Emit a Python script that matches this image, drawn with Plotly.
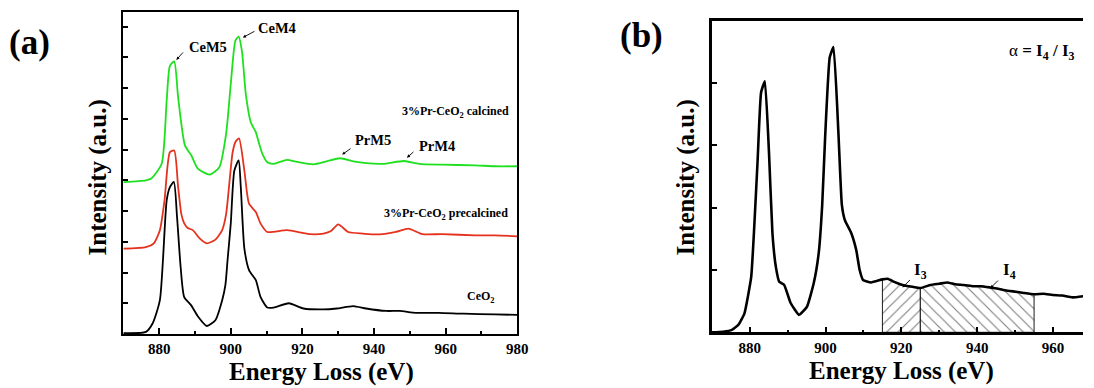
import plotly.graph_objects as go

# ---------------- Panel (a) data ----------------
E_green = [870.0, 876.3, 877.8, 880.7, 882.1, 883.0, 884.2, 885.3, 887.2, 889.0, 890.8, 894.1, 896.8,
           898.7, 900.0, 901.3, 902.2, 903.1, 904.2, 905.6, 907.0, 907.4, 908.8, 910.2, 912.0, 915.7,
           918.5, 923.1, 926.8, 930.5, 934.2, 937.8, 942.5, 948.4, 952.6, 959.0, 968.3, 973.8, 980.0]
I_green = [4.94, 5.00, 5.06, 5.54, 7.60, 8.73, 8.87, 7.70, 6.14, 5.81, 5.38, 5.19, 5.43,
           6.52, 8.14, 9.55, 9.68, 9.22, 7.81, 6.89, 6.57, 6.41, 5.87, 5.59, 5.54, 5.67,
           5.60, 5.52, 5.62, 5.72, 5.62, 5.56, 5.54, 5.63, 5.54, 5.51, 5.49, 5.46, 5.46]

E_red = [870.0, 876.3, 878.5, 880.2, 881.5, 883.0, 884.2, 885.3, 886.2, 887.0, 888.0, 889.4, 891.3,
         893.3, 895.7, 897.6, 898.7, 899.6, 900.5, 901.3, 902.3, 903.8, 905.1, 907.0, 908.3, 910.2,
         915.7, 922.2, 925.9, 928.0, 930.0, 932.8, 936.9, 941.5, 946.1, 949.6, 953.5, 959.0, 968.3,
         973.8, 980.0]
I_red = [2.78, 2.83, 2.95, 3.38, 4.35, 5.92, 5.97, 4.78, 3.90, 3.60, 3.45, 3.38, 3.11,
         2.95, 3.07, 3.38, 3.90, 4.90, 5.90, 6.25, 6.37, 5.32, 4.24, 3.97, 3.60, 3.32,
         3.38, 3.25, 3.27, 3.35, 3.57, 3.32, 3.27, 3.24, 3.32, 3.43, 3.25, 3.25, 3.21,
         3.21, 3.18]

E_black = [870.0, 876.3, 878.2, 880.2, 882.1, 883.0, 884.1, 885.0, 886.0, 887.0, 888.9, 890.9, 893.3,
           895.7, 897.6, 898.5, 899.1, 900.0, 901.0, 902.2, 902.8, 903.8, 905.1, 907.0, 908.3, 910.2,
           912.0, 916.2, 920.3, 925.9, 929.6, 934.2, 937.8, 943.4, 947.1, 951.7, 958.1, 965.0, 973.8,
           980.0]
I_black = [0.03, 0.07, 0.35, 1.10, 4.35, 4.78, 4.95, 3.80, 2.18, 1.20, 0.94, 0.56, 0.26,
           0.45, 1.10, 1.60, 2.40, 3.60, 5.32, 5.65, 4.78, 2.78, 2.08, 1.75, 1.21, 0.86,
           0.86, 1.00, 0.83, 0.80, 0.83, 0.91, 0.83, 0.75, 0.75, 0.69, 0.69, 0.66, 0.64,
           0.62]

# ---------------- Panel (b) data ----------------
E_b = [870.0, 873.0, 875.3, 877.0, 878.6, 880.4, 881.2, 882.1, 883.0, 884.0, 885.1, 886.0, 886.9,
       887.8, 889.1, 890.8, 893.0, 895.1, 896.9, 898.2, 899.1, 899.9, 901.1, 902.1, 903.4, 904.3,
       905.1, 906.8, 908.1, 909.0, 909.9, 912.0, 915.0, 916.4, 918.1, 920.3, 922.9, 925.0, 927.7,
       930.0, 932.1, 934.2, 936.5, 939.0, 941.0, 943.4, 945.5, 947.7, 951.5, 955.0, 957.5, 959.9,
       962.5, 965.1, 968.0]
I_b = [0.00, 0.01, 0.04, 0.12, 0.30, 0.89, 1.69, 2.77, 3.85, 4.03, 2.87, 1.59, 1.05,
       0.81, 0.76, 0.47, 0.28, 0.41, 0.79, 1.27, 2.02, 3.14, 4.41, 4.58, 3.20, 2.05,
       1.80, 1.59, 1.32, 1.00, 0.84, 0.80, 0.85, 0.86, 0.81, 0.76, 0.73, 0.71, 0.76,
       0.78, 0.80, 0.77, 0.76, 0.74, 0.74, 0.72, 0.70, 0.67, 0.64, 0.61, 0.62, 0.60,
       0.59, 0.56, 0.58]

I3_range = [915.0, 925.0]
I4_range = [925.0, 955.0]

x_ticks_a = [880, 900, 920, 940, 960, 980]
x_ticks_b = [880, 900, 920, 940, 960]
y_ticks_a = [1, 2, 3, 4, 5, 6, 7, 8, 9, 10]
y_ticks_b = [1, 2, 3, 4]

GREEN = "#1fe01f"
RED = "#e5321f"
SERIF = "Liberation Serif"

fig = go.Figure()

for xs, ys, col in ((E_black, I_black, "black"), (E_red, I_red, RED), (E_green, I_green, GREEN)):
    fig.add_trace(go.Scatter(x=xs, y=ys, mode="lines",
                             line=dict(color=col, width=1.8, shape="spline", smoothing=0.6),
                             xaxis="x", yaxis="y", showlegend=False, hoverinfo="skip"))


def region(lo, hi):
    xs = [e for e in E_b if lo <= e <= hi]
    ys = [v for e, v in zip(E_b, I_b) if lo <= e <= hi]
    return xs + [hi, lo, lo], ys + [0, 0, ys[0]]


for rng, shp in ((I3_range, "/"), (I4_range, "\\")):
    px, py = region(*rng)
    fig.add_trace(go.Scatter(x=px, y=py, mode="lines", fill="toself",
                             line=dict(color="black", width=0.9),
                             fillcolor="white",
                             fillpattern=dict(shape=shp, fgcolor="black", bgcolor="white",
                                              size=8, solidity=0.14),
                             xaxis="x2", yaxis="y2", showlegend=False, hoverinfo="skip"))

fig.add_trace(go.Scatter(x=E_b, y=I_b, mode="lines",
                         line=dict(color="black", width=2.6, shape="spline", smoothing=0.4),
                         xaxis="x2", yaxis="y2", showlegend=False, hoverinfo="skip"))

tickfont = dict(family=SERIF, size=15, color="black", weight="bold")

fig.update_layout(
    width=1094, height=388,
    margin=dict(l=0, r=0, t=0, b=0),
    paper_bgcolor="white", plot_bgcolor="white",
    showlegend=False,
    font=dict(family=SERIF),
    xaxis=dict(domain=[124.6 / 1094, 522.5 / 1094], range=[870, 980], anchor="y",
               tickvals=x_ticks_a, ticks="inside", ticklen=6, tickwidth=1.5, tickcolor="black",
               minor=dict(dtick=10, tick0=870, ticks="inside", ticklen=3, tickwidth=1.5, tickcolor="black"),
               showline=True, linecolor="black", linewidth=2, mirror=True, showgrid=False,
               zeroline=False, tickfont=tickfont),
    yaxis=dict(domain=[1 - 334 / 388, 1 - 12.3 / 388], range=[0, 10.47], anchor="x",
               tickvals=y_ticks_a, ticks="inside", ticklen=5, tickwidth=1.5, tickcolor="black",
               showticklabels=False, showline=True, linecolor="black", linewidth=2, mirror=True,
               showgrid=False, zeroline=False),
    xaxis2=dict(domain=[719 / 1094, 1.0], range=[870, 967.9], anchor="y2",
                tickvals=x_ticks_b, ticks="inside", ticklen=6, tickwidth=1.5, tickcolor="black",
                minor=dict(dtick=10, tick0=870, ticks="inside", ticklen=3, tickwidth=1.5, tickcolor="black"),
                showline=True, linecolor="black", linewidth=2.5, mirror=True, showgrid=False,
                zeroline=False, tickfont=tickfont),
    yaxis2=dict(domain=[1 - 332.3 / 388, 1 - 20.5 / 388], range=[0, 5.005], anchor="x2",
                tickvals=y_ticks_b, ticks="inside", ticklen=5, tickwidth=1.5, tickcolor="black",
                showticklabels=False, showline=True, linecolor="black", linewidth=2.5, mirror=False,
                showgrid=False, zeroline=False),
)

ann = []


def ptext(txt, x, y, size, angle=0):
    ann.append(dict(text=txt, x=x / 1094, y=1 - y / 388, xref="paper", yref="paper",
                    xanchor="center", yanchor="middle", showarrow=False, textangle=angle,
                    font=dict(family=SERIF, size=size, color="black", weight="bold")))


ptext("(a)", 29.8, 42.5, 35)
ptext("(b)", 648, 35, 35)
ptext("Intensity (a.u.)", 100, 177.5, 25, -90)
ptext("Energy Loss (eV)", 324.4, 372, 25)
ptext("Intensity (a.u.)", 693, 177.5, 25, -90)
ptext("Energy Loss (eV)", 910.8, 371, 25)


def dtext(txt, x, y, size, xa="center", axes=("x", "y"), weight="bold"):
    ann.append(dict(text=txt, x=x, y=y, xref=axes[0], yref=axes[1], xanchor=xa, yanchor="middle",
                    showarrow=False, font=dict(family=SERIF, size=size, color="black", weight=weight)))


def arrow(x, y, ax, ay, axes=("x", "y")):
    ann.append(dict(text="", x=x, y=y, xref=axes[0], yref=axes[1], ax=ax, ay=ay,
                    showarrow=True, arrowhead=2, arrowsize=0.7, arrowwidth=0.9,
                    arrowcolor="black", standoff=0, startstandoff=0,
                    font=dict(family=SERIF, size=10, color="black")))


dtext("CeM5", 893.7, 9.35, 14.5)
arrow(884.8, 8.92, 8, -9)
dtext("CeM4", 912.9, 9.97, 14.5)
arrow(903.4, 9.65, 13, -7)
dtext("PrM5", 939.7, 6.32, 14.5)
arrow(931.1, 5.84, 10, -7)
dtext("PrM4", 957.7, 6.13, 14.5)
arrow(949.2, 5.74, 8, -7)
dtext("3%Pr-CeO<sub>2</sub> calcined", 978.2, 7.22, 12, xa="right")
dtext("3%Pr-CeO<sub>2</sub> precalcined", 977.9, 3.9, 12, xa="right")
dtext("CeO<sub>2</sub>", 974.3, 1.2, 12, xa="right")

dtext("I<sub>3</sub>", 922.9, 0.98, 17, xa="left", axes=("x2", "y2"))
arrow(920.3, 0.72, 9, -9, axes=("x2", "y2"))
dtext("I<sub>4</sub>", 946.4, 0.98, 17, xa="left", axes=("x2", "y2"))
arrow(943.5, 0.71, 9, -9, axes=("x2", "y2"))

ann.append(dict(text="α <b>= I<sub>4</sub> / I<sub>3</sub></b>", x=1052.5 / 1094, y=1 - 52 / 388,
                xref="paper", yref="paper", xanchor="center", yanchor="middle", showarrow=False,
                font=dict(family=SERIF, size=17, color="black")))

fig.update_layout(annotations=ann)

fig.write_html("out.html", config={"displayModeBar": False},
               post_script="document.body.style.margin='0';document.body.style.padding='0';")
